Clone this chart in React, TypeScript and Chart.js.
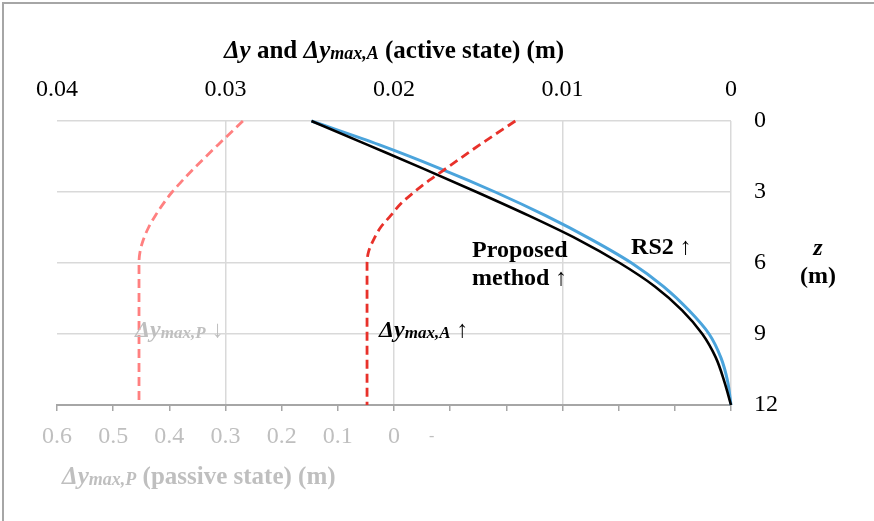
import React, { useEffect, useRef } from 'react';
import { Chart, registerables } from 'chart.js';

Chart.register(...registerables);

// ---- data ----
const depthZ = [0, 1, 2, 3, 4, 5, 6, 7, 8, 9, 10, 11, 12];
const rs2Dy = [0.0249, 0.0209, 0.0173, 0.014, 0.011, 0.0083, 0.0059, 0.004, 0.0025, 0.0013, 0.0006, 0.0002, 0];
const proposedDy = [0.0249, 0.0216, 0.0183, 0.0151, 0.012, 0.0091, 0.0066, 0.0045, 0.0029, 0.0017, 0.0009, 0.0004, 0];
const maxActiveZ = [0, 1, 2, 2.5, 3, 3.5, 4, 4.5, 5, 5.5, 6, 12];
const maxActiveDy = [0.0128, 0.0149, 0.0169, 0.0179, 0.0188, 0.0196, 0.0202, 0.0208, 0.0212, 0.0215, 0.0216, 0.0216];
const maxPassiveZ = [0, 1, 2, 2.5, 3, 3.5, 4, 4.5, 5, 5.5, 6, 12];
const maxPassiveDy = [0.269, 0.313, 0.356, 0.376, 0.395, 0.411, 0.425, 0.437, 0.446, 0.452, 0.454, 0.454];

const activeTicks = [0, 0.01, 0.02, 0.03, 0.04];
const passiveTicks = [-0.6, -0.5, -0.4, -0.3, -0.2, -0.1, 0, 0.1, 0.2, 0.3, 0.4, 0.5, 0.6];
const depthTicks = [0, 3, 6, 9, 12];

const SERIF = "'Liberation Serif', 'Times New Roman', 'DejaVu Serif', serif";
const GRAY_TEXT = '#bfbfbf';
const GRID = '#d9d9d9';
const AXIS = '#a6a6a6';

type Run = { t: string; f: string; dy?: number };

function drawRuns(ctx: CanvasRenderingContext2D, runs: Run[], x: number, y: number, align: 'left' | 'center', color: string) {
  ctx.save();
  ctx.fillStyle = color;
  ctx.textBaseline = 'alphabetic';
  ctx.textAlign = 'left';
  let w = 0;
  for (const r of runs) {
    ctx.font = r.f;
    w += ctx.measureText(r.t).width;
  }
  let cx = align === 'center' ? x - w / 2 : x;
  for (const r of runs) {
    ctx.font = r.f;
    ctx.fillText(r.t, cx, y + (r.dy || 0));
    cx += ctx.measureText(r.t).width;
  }
  ctx.restore();
}

const B = `bold 24px ${SERIF}`;
const BI = `italic bold 24px ${SERIF}`;
const SUB = `italic bold 17px ${SERIF}`;
const R = `24px ${SERIF}`;
const TB = `bold 25px ${SERIF}`;
const TBI = `italic bold 25px ${SERIF}`;
const TSUB = `italic bold 18px ${SERIF}`;

const textPlugin = {
  id: 'texts',
  afterDraw(chart: any) {
    const ctx: CanvasRenderingContext2D = chart.ctx;
    const area = chart.chartArea;
    const xA = chart.scales.xA;
    const xP = chart.scales.xP;
    const yS = chart.scales.y;

    // top axis title
    drawRuns(ctx, [
      { t: 'Δy', f: TBI },
      { t: ' and ', f: TB },
      { t: 'Δy', f: TBI },
      { t: 'max,A', f: TSUB, dy: 1 },
      { t: ' (active state) (m)', f: TB },
    ], (area.left + area.right) / 2, area.top - 63, 'center', '#000');

    // bottom axis title
    drawRuns(ctx, [
      { t: 'Δy', f: TBI },
      { t: 'max,P', f: TSUB, dy: 1 },
      { t: ' (passive state) (m)', f: TB },
    ], xP.getPixelForValue(0.591), area.bottom + 79, 'left', GRAY_TEXT);

    // stray dash label on passive axis
    drawRuns(ctx, [{ t: '-', f: `16px ${SERIF}` }], xP.getPixelForValue(-0.067), area.bottom + 36, 'center', GRAY_TEXT);

    // right axis title
    drawRuns(ctx, [{ t: 'z', f: BI }], area.right + 87, yS.getPixelForValue(5.65), 'center', '#000');
    drawRuns(ctx, [{ t: '(m)', f: B }], area.right + 87, yS.getPixelForValue(6.85), 'center', '#000');

    // annotations
    drawRuns(ctx, [{ t: 'Proposed', f: B }], xA.getPixelForValue(0.01537), yS.getPixelForValue(5.75), 'left', '#000');
    drawRuns(ctx, [{ t: 'method ', f: B }, { t: '↑', f: R }], xA.getPixelForValue(0.01537), yS.getPixelForValue(6.93), 'left', '#000');
    drawRuns(ctx, [{ t: 'RS2 ', f: B }, { t: '↑', f: R }], xA.getPixelForValue(0.00593), yS.getPixelForValue(5.62), 'left', '#000');
    drawRuns(ctx, [
      { t: 'Δy', f: BI },
      { t: 'max,A', f: SUB, dy: 1 },
      { t: ' ↑', f: R },
    ], xA.getPixelForValue(0.02089), yS.getPixelForValue(9.13), 'left', '#000');
    drawRuns(ctx, [
      { t: 'Δy', f: BI },
      { t: 'max,P', f: SUB, dy: 1 },
      { t: ' ↓', f: R },
    ], xP.getPixelForValue(0.461), yS.getPixelForValue(9.13), 'left', GRAY_TEXT);
  },
};

function fmt(v: number) {
  const r = Math.round(v * 100) / 100;
  return String(r);
}

export default function App() {
  const canvasRef = useRef<HTMLCanvasElement | null>(null);

  useEffect(() => {
    document.body.style.margin = '0';
    const canvas = canvasRef.current;
    if (!canvas) return;

    const chart = new Chart(canvas, {
      type: 'line',
      data: {
        datasets: [
          {
            label: 'Δymax,A',
            data: maxActiveZ.map((z, i) => ({ x: maxActiveDy[i], y: z })),
            xAxisID: 'xA',
            yAxisID: 'y',
            borderColor: '#e8312a',
            borderWidth: 2.8,
            borderDash: [9, 5],
            pointRadius: 0,
            cubicInterpolationMode: 'monotone',
            order: 0,
            clip: false,
          } as any,
          {
            label: 'Proposed method',
            data: depthZ.map((z, i) => ({ x: proposedDy[i], y: z })),
            xAxisID: 'xA',
            yAxisID: 'y',
            borderColor: '#000000',
            borderWidth: 2.6,
            pointRadius: 0,
            cubicInterpolationMode: 'monotone',
            order: 1,
            clip: false,
          } as any,
          {
            label: 'RS2',
            data: depthZ.map((z, i) => ({ x: rs2Dy[i], y: z })),
            xAxisID: 'xA',
            yAxisID: 'y',
            borderColor: '#4ba4dc',
            borderWidth: 3,
            pointRadius: 0,
            cubicInterpolationMode: 'monotone',
            order: 2,
            clip: false,
          } as any,
          {
            label: 'Δymax,P',
            data: maxPassiveZ.map((z, i) => ({ x: maxPassiveDy[i], y: z })),
            xAxisID: 'xP',
            yAxisID: 'y',
            borderColor: '#ff8080',
            borderWidth: 2.8,
            borderDash: [9, 5],
            pointRadius: 0,
            cubicInterpolationMode: 'monotone',
            order: 3,
            clip: false,
          } as any,
        ],
      },
      options: {
        indexAxis: 'y',
        responsive: false,
        animation: false,
        events: [],
        layout: { padding: { left: 57, right: 0, top: 0, bottom: 0 } },
        plugins: {
          legend: { display: false },
          tooltip: { enabled: false },
          title: { display: false },
        },
        scales: {
          xA: {
            type: 'linear',
            axis: 'x',
            position: 'top',
            min: 0,
            max: 0.04,
            reverse: true,
            afterBuildTicks: (s: any) => {
              s.ticks = activeTicks.map((v) => ({ value: v }));
            },
            afterFit: (s: any) => {
              s.height = 121;
            },
            ticks: {
              autoSkip: false,
              maxRotation: 0,
              padding: 17,
              color: '#000',
              font: { family: SERIF, size: 24 },
              callback: (v: any) => fmt(Number(v)),
            },
            grid: {
              color: (c: any) => (c.tick && c.tick.value > 0.035 ? 'rgba(0,0,0,0)' : GRID),
              lineWidth: 1.5,
              drawTicks: false,
            },
            border: { display: false },
          },
          xP: {
            type: 'linear',
            axis: 'x',
            position: 'bottom',
            min: -0.6,
            max: 0.6,
            reverse: true,
            afterBuildTicks: (s: any) => {
              s.ticks = passiveTicks.map((v) => ({ value: v }));
            },
            afterFit: (s: any) => {
              s.height = 116;
            },
            ticks: {
              autoSkip: false,
              maxRotation: 0,
              padding: 11,
              color: GRAY_TEXT,
              font: { family: SERIF, size: 24 },
              callback: (v: any) => {
                const n = Number(v);
                return n > -1e-9 ? String(Math.round(n * 10) / 10) : '';
              },
            },
            grid: {
              drawOnChartArea: false,
              drawTicks: true,
              tickLength: 6,
              color: AXIS,
              lineWidth: 1.5,
            },
            border: { display: true, color: AXIS, width: 2 },
          },
          y: {
            type: 'linear',
            position: 'right',
            min: 0,
            max: 12,
            reverse: true,
            afterBuildTicks: (s: any) => {
              s.ticks = depthTicks.map((v) => ({ value: v }));
            },
            afterFit: (s: any) => {
              s.width = 143;
            },
            ticks: {
              padding: 23,
              color: '#000',
              font: { family: SERIF, size: 24 },
              callback: (v: any) => String(v),
            },
            grid: {
              color: (c: any) => (c.tick && c.tick.value > 11.5 ? 'rgba(0,0,0,0)' : GRID),
              lineWidth: 1.5,
              drawTicks: false,
            },
            border: { display: false },
          },
        },
      } as any,
      plugins: [textPlugin],
    });

    return () => {
      chart.destroy();
    };
  }, []);

  return (
    <div style={{ position: 'relative', width: 874, height: 521, overflow: 'hidden', background: '#fff' }}>
      <div
        style={{
          position: 'absolute',
          left: 2,
          top: 2,
          width: 1000,
          height: 1000,
          borderLeft: '2px solid #a6a6a6',
          borderTop: '2px solid #a6a6a6',
        }}
      />
      <canvas ref={canvasRef} width={874} height={521} style={{ position: 'absolute', left: 0, top: 0, width: 874, height: 521 }} />
    </div>
  );
}
